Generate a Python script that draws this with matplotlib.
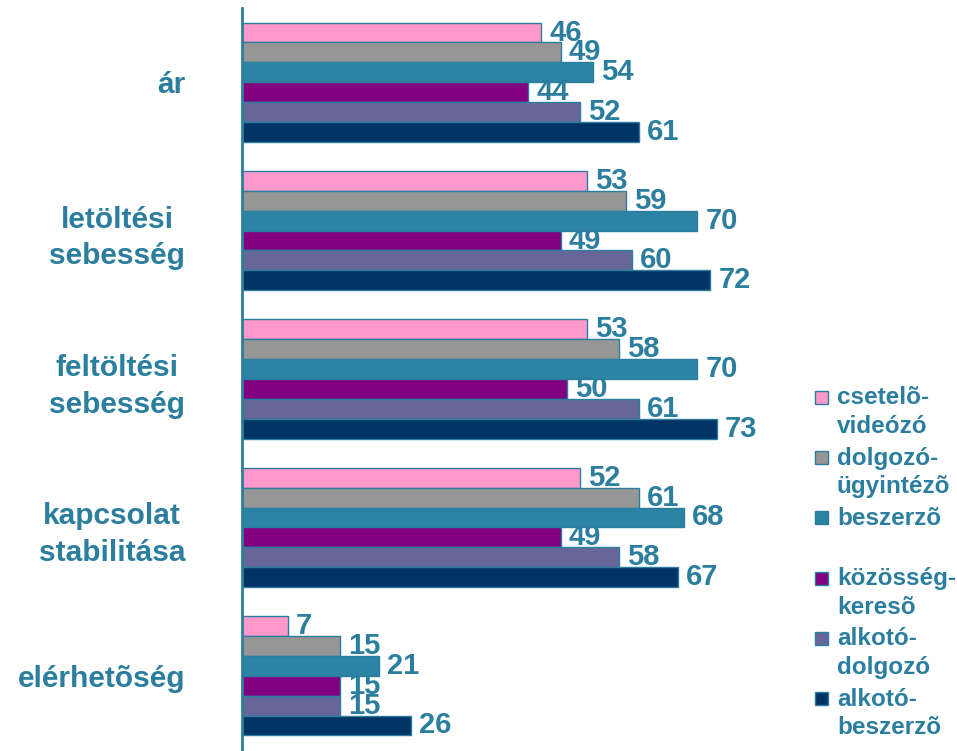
import numpy as np
import matplotlib.pyplot as plt
from matplotlib.patches import Rectangle

plt.rcParams['font.family'] = ['Liberation Sans', 'DejaVu Sans']

# categories (top to bottom) and series
categories = ['ár', 'letöltési\nsebesség', 'feltöltési\nsebesség',
              'kapcsolat\nstabilitása', 'elérhetõség']
series = ['csetelõ-\nvideózó', 'dolgozó-\nügyintézõ', 'beszerzõ',
          'közösség-\nkeresõ', 'alkotó-\ndolgozó', 'alkotó-\nbeszerzõ']
cseteloe = [46, 53, 53, 52, 7]
dolgozo = [49, 59, 58, 61, 15]
beszerzo = [54, 70, 70, 68, 21]
kozosseg = [44, 49, 50, 49, 15]
alkoto_dolgozo = [52, 60, 61, 58, 15]
alkoto_beszerzo = [61, 72, 73, 67, 26]
values = [cseteloe, dolgozo, beszerzo, kozosseg, alkoto_dolgozo, alkoto_beszerzo]

colors = ['#FF99CC', '#969696', '#2C84A5', '#800080', '#666699', '#003366']
teal = '#2B7E9E'

fig = plt.figure(figsize=(9.57, 7.51), dpi=100)
ax = fig.add_axes([242 / 957, 1 / 751, 650 / 957, 742 / 751])

y = np.arange(len(categories))
h = 0.1338
for j, vals in enumerate(values):
    pos = y + (j - 2.5) * h
    ax.barh(pos, vals, height=h, color=colors[j], edgecolor=teal, linewidth=1)
    for p, v in zip(pos, vals):
        ax.annotate(str(v), (v, p), xytext=(6, 0), textcoords='offset points',
                    va='center', ha='left', fontsize=21, fontweight='bold',
                    color=teal)

ax.set_xlim(0, 100)
ax.set_ylim(len(categories) - 0.5, -0.5)
ax.set_yticks(y)
ax.set_yticklabels(categories, fontsize=21.5, fontweight='bold', color=teal,
                   multialignment='center', linespacing=1.4)
ax.tick_params(axis='y', length=0, pad=41)
ax.set_xticks([])
for s in ['top', 'right', 'bottom']:
    ax.spines[s].set_visible(False)
ax.spines['left'].set_color(teal)
ax.spines['left'].set_linewidth(2)
ax.patch.set_alpha(0)

# legend on the right
for k, (lab, c) in enumerate(zip(series, colors)):
    yc = 751 - (397.5 + 60.2 * k)
    fig.patches.append(Rectangle((815 / 957, (yc - 6.5) / 751), 13 / 957, 13 / 751,
                                 transform=fig.transFigure, facecolor=c,
                                 edgecolor=teal, linewidth=1))
    fig.text(837 / 957, (yc + 11) / 751, lab, ha='left', va='top',
             fontsize=17.5, fontweight='bold', color=teal, linespacing=1.3)

fig.savefig('out.png', dpi=100)
